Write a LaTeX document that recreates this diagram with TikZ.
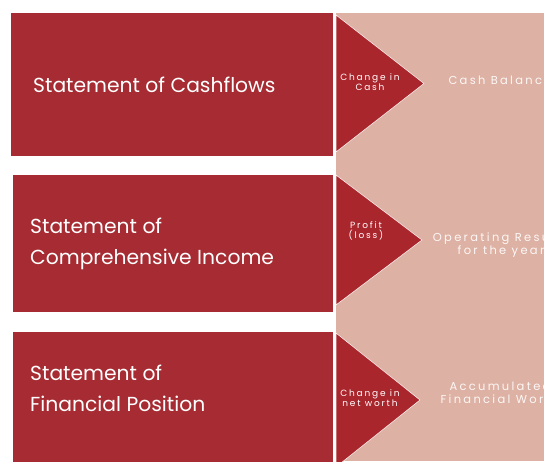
\documentclass[tikz,border=0pt]{standalone}
\usepackage{fontspec}
\setmainfont{Poppins}
\newfontfamily\spaced{Poppins}[LetterSpace=20]
\usetikzlibrary{positioning}
\definecolor{boxred}{RGB}{166,43,50}
\definecolor{tipred}{RGB}{170,38,45}
\definecolor{rosebg}{RGB}{221,177,163}

\begin{document}
\begin{tikzpicture}[x=1pt,y=-1pt,
    stmt/.style={fill=boxred, minimum width=322, minimum height=143, inner sep=0},
    stmttext/.style={text=white, font=\fontsize{20.3}{31}\selectfont, align=left, inner sep=0},
    tri/.style={fill=tipred, draw=white!80!rosebg, line width=0.6pt},
    tiptext/.style={text=white, font=\spaced\fontsize{9}{10.5}\selectfont, align=center, inner sep=0},
    sidetext/.style={text=white!90!rosebg, font=\spaced\fontsize{11.5}{13.5}\selectfont, align=center, inner sep=0}]
    \useasboundingbox (0,0) rectangle (544,461);
    \clip (0,0) rectangle (544,461);
    \fill[white] (0,0) rectangle (544,461);
    \fill[rosebg] (335.5,13) rectangle (544,461);

    \node(cash) [stmt, anchor=north west] at (11,13) {};
    \node(income) [stmt, anchor=north west, minimum width=320, minimum height=137] at (13,175) {};
    \node(position) [stmt, anchor=north west, minimum width=320, minimum height=138] at (13,332) {};

    \node(cashtxt) [stmttext, right=22pt of cash.west] {Statement of Cashflows};
    \node(incometxt) [stmttext, right=17pt of income.west] {Statement of\\Comprehensive Income};
    \node(positiontxt) [stmttext, right=17pt of position.west, yshift=13pt] {Statement of\\Financial Position};

    \draw[tri] (336,15) -- (336,152) -- (424,83.5) -- cycle;
    \draw[tri] (336,175) -- (336,305) -- (422,240) -- cycle;
    \draw[tri] (336,333) -- (336,467) -- (420,400) -- cycle;

    \node(dcash) [tiptext] at (370,82) {Change in\\Cash};
    \node(profit) [tiptext] at (366,231) {Profit\\(loss)};
    \node(dworth) [tiptext] at (370,398) {Change in\\net worth};

    \node(balance) [sidetext] at (500,80) {Cash Balance};
    \node(result) [sidetext] at (501,245) {Operating Results\\for the year};
    \node(worth) [sidetext] at (500,393) {Accumulated\\Financial Worth};
  \end{tikzpicture}
\end{document}
